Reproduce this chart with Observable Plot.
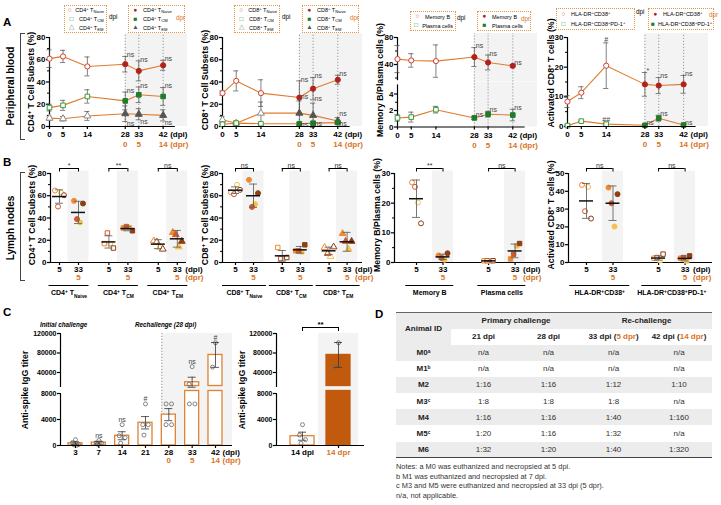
<!DOCTYPE html>
<html>
<head>
<meta charset="utf-8">
<script src="https://cdn.jsdelivr.net/npm/d3@7"></script>
<script src="https://cdn.jsdelivr.net/npm/@observablehq/plot@0.6"></script>
<style>
html,body{margin:0;padding:0;background:#fff;}
#fig{position:relative;width:721px;height:505px;overflow:hidden;background:#fff;font-family:"Liberation Sans",Arial,Helvetica,sans-serif;color:#000;}
#fig svg{position:absolute;}
.ylab{position:absolute;transform:translate(-50%,-50%) rotate(-90deg);white-space:nowrap;font-weight:bold;font-size:8.8px;line-height:1;}
.ylab sup{font-size:70%;vertical-align:0.45em;line-height:0;}
.side{position:absolute;transform:translate(-50%,-50%) rotate(-90deg);white-space:nowrap;font-weight:bold;font-size:10px;line-height:1;}
.letter{position:absolute;font-weight:bold;font-size:11.5px;line-height:1;}
.legend{position:absolute;border:1px dotted #e3964a;box-sizing:border-box;padding:0 2px;font-size:5.5px;white-space:nowrap;}
.legend .row{display:flex;align-items:center;}
.legend .mk{display:inline-block;width:9px;font-size:6.5px;text-align:center;margin-right:3px;line-height:1;}
.legend sub{font-size:75%;vertical-align:-0.3em;line-height:0;}
.legend sup{font-size:75%;vertical-align:0.5em;line-height:0;}
.tag{position:absolute;font-size:6.3px;line-height:1;}
.bracket{position:absolute;border:1px solid #444;border-right:none;width:5px;box-sizing:border-box;}
.ital{position:absolute;font-style:italic;font-weight:bold;font-size:6.3px;white-space:nowrap;line-height:1;}
#tbl{position:absolute;left:396px;top:312px;width:316px;border-collapse:collapse;table-layout:fixed;border-top:1.5px solid #666;border-bottom:1.5px solid #444;font-size:8px;}
#tbl tr{height:16.2px;}
#tbl tr.h{height:16px;}
#tbl th{font-weight:bold;color:#222;padding:0;text-align:center;}
#tbl td{font-weight:normal;color:#333;padding:0;text-align:center;}
#tbl tr.g > *, #tbl .g{background:#ececec;}
#tbl .o{color:#d9741f;}
#tbl sup{font-size:60%;vertical-align:0.5em;line-height:0;font-weight:bold;}
#notes{position:absolute;left:396px;top:462px;font-size:7.4px;line-height:9.6px;color:#333;white-space:nowrap;}
</style>
</head>
<body>
<div id="fig"></div>
<script>
// ================= DATA =================
// Panel A: peripheral blood time course
const days = [0, 5, 14, 28, 33, 42];
const rechallengeDay = 28;
const dprByDay = ["", "", "", "0", "5", "14"];
const cd4NaiveMean = [61, 63, 54, 56, 50, 55];
const cd4NaiveSD = [8, 5.5, 8.5, 7, 9, 4.5];
const cd4TcmMean = [17, 19, 27, 23, 28.5, 27];
const cd4TcmSD = [3, 4.5, 6, 8, 7, 8];
const cd4TemMean = [7.5, 7, 9.5, 11.5, 11, 10];
const cd4TemSD = [2, 2, 4, 7, 5, 5];
const cd8NaiveMean = [30, 41, 30, 26, 34, 42];
const cd8NaiveSD = [2, 9, 12, 15, 10, 4];
const cd8TcmMean = [2, 3, 2.5, 2.5, 3, 3.5];
const cd8TcmSD = [1, 1, 1, 1, 1.5, 1];
const cd8TemMean = [6, 3, 12, 12, 10, 5];
const cd8TemSD = [3, 2, 10, 11, 11, 3];
const memBMean = [48, 46, 45, 51, 43, 38];
const memBSD = [20, 10, 24, 14, 11, 2];
const plasmaMean = [1.1, 1.2, 2.1, 1.1, 1.55, 1.45];
const plasmaSD = [0.4, 0.6, 0.4, 0.2, 0.35, 0.7];
const actMean = [8.4, 11.4, 20.5, 14.2, 13.8, 14.2];
const actSD = [2, 2, 7.7, 4, 2.7, 3];
const actPdMean = [0.3, 1.8, 0.8, 0.4, 2.8, 0.5];
const actPdSD = [0.2, 0.3, 0.3, 0.2, 1, 0.3];
const nsNotes = ["", "", "", "ns", "ns", "ns"];
const actNotes = ["", "", "#", "*", "ns", "ns"];
const actPdNotes = ["", "", "##", "ns", "ns", "ns"];
const cd4Legend = ["CD4<sup>+</sup> T<sub>Naive</sub>", "CD4<sup>+</sup> T<sub>CM</sub>", "CD4<sup>+</sup> T<sub>EM</sub>"];
const cd8Legend = ["CD8<sup>+</sup> T<sub>Naive</sub>", "CD8<sup>+</sup> T<sub>CM</sub>", "CD8<sup>+</sup> T<sub>EM</sub>"];
const bLegend = ["Memory B", "Plasma cells"];
const actLegend = ["HLA-DR<sup>+</sup>CD38<sup>+</sup>", "HLA-DR<sup>+</sup>CD38<sup>+</sup>PD-1<sup>+</sup>"];

// Panel B: lymph nodes (5 dpi vs 33 dpi / 5 dpr), 4 animals each
const lnTimes = ["5", "33"];
const lnDprLabel = "5";
const cd4LnGroups = ["CD4^{+} T_{Naive}", "CD4^{+} T_{CM}", "CD4^{+} T_{EM}"];
const cd4LnDpi = [[64.7, 62.9, 60.5, 50.3], [17, 17, 13, 26.5], [19.5, 13.5, 12, 18.6]];
const cd4LnDpr = [[55.4, 36, 53, 39], [31, 31.4, 28.5, 32.3], [27, 14, 19, 25]];
const cd4LnMean5 = [59.3, 18.5, 16.5];
const cd4LnSd5 = [6, 5.5, 4];
const cd4LnMean33 = [45, 30.5, 21.3];
const cd4LnSd33 = [10, 2, 7.5];
const cd4LnSig = ["*", "**", "ns"];
const cd8LnGroups = ["CD8^{+} T_{Naive}", "CD8^{+} T_{CM}", "CD8^{+} T_{EM}"];
const cd8LnDpi = [[63, 69.8, 65.3, 61.4], [13.5, 3.6, 4.5, 3.6], [13.5, 5.4, 14, 8]];
const cd8LnDpr = [[74.3, 52.4, 62.3, 50], [10.5, 9.6, 15.9, 10.5], [26, 12, 19, 19]];
const cd8LnMean5 = [65, 6, 10.5];
const cd8LnSd5 = [3, 4.8, 3.3];
const cd8LnMean33 = [60, 11.4, 18.6];
const cd8LnSd33 = [10.5, 3, 8.5];
const cd8LnSig = ["ns", "ns", "ns"];
const bLnGroups = ["Memory B", "Plasma cells"];
const bLnDpi = [[27, 20.2, 13.2, 25.5], [0.6, 0.5, 0.6, 0.6]];
const bLnDpr = [[2.4, 0.9, 3.1, 1.5], [1.2, 5.6, 6.4, 2.8]];
const bLnMean5 = [21.5, 0.55];
const bLnSd5 = [6.3, 0.15];
const bLnMean33 = [1.9, 3.9];
const bLnSd33 = [0.9, 2.3];
const bLnSig = ["**", "ns"];
const actLnGroups = ["HLA-DR^{+}CD38^{+}", "HLA-DR^{+}CD38^{+}PD-1^{+}"];
const actLnDpi = [[43.6, 42.5, 24.7, 28.8], [2.4, 1.3, 4.7, 2.8]];
const actLnDpr = [[42.1, 20.2, 38.4, 33.3], [2.4, 0.9, 3.7, 2.8]];
const actLnMean5 = [34.6, 2.5];
const actLnSd5 = [9.8, 1.2];
const actLnMean33 = [33.3, 2.3];
const actLnSd33 = [9.7, 1.4];
const actLnSig = ["ns", "ns"];

// Panel C: anti-spike IgG titers
const titerDays = ["3", "7", "14", "21", "28", "33", "42"];
const titerDpr = ["", "", "", "", "0", "5", "14"];
const titerMean = [340, 450, 1500, 3500, 4750, 20000, 76000];
const titerSEM = [230, 200, 620, 950, 930, 10300, 25500];
const titerPoints = [[900, 450, 150, 100, 50], [770, 350, 350, 200], [3200, 1500, 1200, 350], [6400, 3200, 3200, 1600], [6400, 6400, 3200, 3200], [52000, 16000, 6400, 6400], [101000, 51000]];
const titerNotes = ["", "ns", "ns", "#", "", "ns", "#"];
const titerUpperTicks = [40000, 80000, 120000];
const titerLowerTicks = [0, 4000, 8000];
const cmpLabels = ["14 dpi", "14 dpr"];
const cmpMean = [1430, 76000];
const cmpSEM = [620, 25500];
const cmpPoints = [[3200, 1600, 900, 350], [101000, 51000]];
const cmpSig = "**";

// Panel D: neutralizing titers table
const tableGroups = ["Primary challenge", "Re-challenge"];
const tableCols = ["21 dpi", "28 dpi", "33 dpi (<span class='o'>5 dpr</span>)", "42 dpi (<span class='o'>14 dpr</span>)"];
const animalIds = ["M0<sup>a</sup>", "M1<sup>b</sup>", "M2", "M3<sup>c</sup>", "M4", "M5<sup>c</sup>", "M6"];
const titer21 = ["n/a", "n/a", "1:16", "1:8", "1:16", "1:20", "1:32"];
const titer28 = ["n/a", "n/a", "1:16", "1:8", "1:16", "1:16", "1:20"];
const titer33 = ["n/a", "n/a", "1:12", "1:8", "1:40", "1:32", "1:40"];
const titer42 = ["n/a", "n/a", "1:10", "n/a", "1:160", "n/a", "1:320"];
const tableNotes = ["Notes: a M0 was euthanized and necropsied at 5 dpi.", "b M1 was euthanized and necropsied at 7 dpi.", "c M3 and M5 were euthanized and necropsied at 33 dpi (5 dpr).", "n/a, not applicable."];

// ================= STYLE =================
const ORANGE = "#d9741f", LINE = "#e07b2c", BAR = "#de8234", BARFILL = "#c25a0d", SHADE = "#f3f3f3", ERR = "#4a4a4a";
const RED = "#d2402f", DARKRED = "#b3211b", GREEN = "#3a9a3a", DKGREEN = "#1f7d2a", GRAY = "#8a8a8a", DKGRAY = "#555";
const animalColors = ["#ef8b2f", "#f5c34b", "#8f3d12", "#d2582a"];
const baseStyle = {fontFamily: '"Liberation Sans", Arial, sans-serif', fontSize: "8px", fontWeight: "bold", color: "#000", background: "none", overflow: "visible", maxWidth: "none"};
const fig = document.getElementById("fig");

function richify(svg) {
  for (const t of svg.querySelectorAll("text, tspan")) {
    if (t.children.length) continue;
    const s = t.textContent;
    if (!/[\^_]\{/.test(s)) continue;
    t.textContent = "";
    const re = /([\^_])\{([^}]*)\}/g;
    let last = 0, m;
    while ((m = re.exec(s))) {
      if (m.index > last) t.appendChild(document.createTextNode(s.slice(last, m.index)));
      const ts = document.createElementNS("http://www.w3.org/2000/svg", "tspan");
      ts.setAttribute("baseline-shift", m[1] === "^" ? "super" : "sub");
      ts.setAttribute("font-size", "70%");
      ts.textContent = m[2];
      t.appendChild(ts);
      last = re.lastIndex;
    }
    if (last < s.length) t.appendChild(document.createTextNode(s.slice(last)));
  }
}

function place({x0, y0, x1, y1, xDomain, yDomain, marks, xAxis = true}) {
  const ml = 40, mr = 30, mt = 12, mb = 40;
  const svg = Plot.plot({
    width: ml + (x1 - x0) + mr, height: mt + (y1 - y0) + mb,
    marginLeft: ml, marginRight: mr, marginTop: mt, marginBottom: mb,
    x: xAxis ? {domain: xDomain} : {domain: xDomain, axis: null},
    y: {domain: yDomain},
    color: {type: "identity"},
    style: baseStyle,
    marks
  });
  svg.style.left = (x0 - ml) + "px";
  svg.style.top = (y0 - mt) + "px";
  richify(svg);
  fig.appendChild(svg);
}

function html(tag, cls, css, inner) {
  const e = document.createElement(tag);
  if (cls) e.className = cls;
  Object.assign(e.style, css);
  e.innerHTML = inner;
  fig.appendChild(e);
  return e;
}
const px_ = v => v + "px";

// ================= PANEL A =================
function timePanel(p) {
  const {x0, y0, x1, y1, yDomain, yTicks, yMinor, axisSpan, series, showX} = p;
  const xDomain = [0, 51];
  const ppd = (x1 - x0) / (xDomain[1] - xDomain[0]);
  const cap = 2.6 / ppd;
  const [lo, hi] = yDomain;
  const later = days.filter(d => d >= rechallengeDay);
  const marks = [
    Plot.rect([{a: rechallengeDay, b: xDomain[1]}], {x1: "a", x2: "b", y1: () => lo, y2: () => hi, fill: SHADE}),
    Plot.ruleX(later, {y1: () => lo, y2: () => hi, stroke: "#808080", strokeWidth: 0.8, strokeDasharray: "1.2,1.8"}),
    Plot.ruleX([xDomain[0]], {y1: () => axisSpan[0], y2: () => axisSpan[1], strokeWidth: 1.2}),
    Plot.axisY(yTicks, {tickSize: 3, tickPadding: 1, strokeWidth: 1.2, label: null, tickFormat: d => String(d)})
  ];
  if (yMinor) marks.push(Plot.axisY(yMinor, {tickSize: 2, strokeWidth: 1, label: null, tickFormat: () => ""}));
  for (const s of series) {
    const data = days.map((d, i) => ({x: d, y: s.mean[i], lo: s.mean[i] - s.sd[i], hi: s.mean[i] + s.sd[i], note: s.notes[i], dpr: d >= rechallengeDay}));
    marks.push(Plot.line(data, {x: "x", y: "y", stroke: LINE, strokeWidth: 1.1}));
    marks.push(Plot.ruleX(data, {x: "x", y1: "lo", y2: "hi", stroke: ERR, strokeWidth: 0.7}));
    marks.push(Plot.ruleY(data, {y: "hi", x1: d => d.x - cap, x2: d => d.x + cap, stroke: ERR, strokeWidth: 0.7}));
    marks.push(Plot.ruleY(data, {y: "lo", x1: d => d.x - cap, x2: d => d.x + cap, stroke: ERR, strokeWidth: 0.7}));
    marks.push(Plot.dot(data, {x: "x", y: "y", symbol: s.symbol, r: 2.6, fill: d => d.dpr ? s.fillColor : "white", stroke: d => d.dpr ? s.fillColor : s.color, strokeWidth: 1}));
    const side = data.filter(d => d.note && !d.note.startsWith("#"));
    const top = data.filter(d => d.note.startsWith("#"));
    const ndy = s.noteDy !== undefined ? s.noteDy : (s.noteBelow ? 2 : -1.5);
    marks.push(Plot.text(side, {x: "x", y: s.noteBelow ? "lo" : "hi", text: "note", textAnchor: "start", dx: 1.5, dy: ndy, fontSize: 7, fontWeight: "normal", fill: "#444"}));
    marks.push(Plot.text(top, {x: "x", y: "hi", text: "note", lineAnchor: "bottom", dy: -1, fontSize: 7, fontWeight: "normal", fill: "#444"}));
  }
  if (showX) {
    const last = days[days.length - 1];
    marks.push(Plot.ruleY([lo], {x1: () => xDomain[0], x2: () => 46.5, strokeWidth: 1.2}));
    marks.push(Plot.axisX(days, {tickSize: 3, tickPadding: 2, strokeWidth: 1.2, label: null, tickFormat: d => String(d)}));
    marks.push(Plot.axisX(later, {tickSize: 0, tickPadding: 15, label: null, tickFormat: d => dprByDay[days.indexOf(d)], fill: ORANGE}));
    marks.push(Plot.text(["(dpi)"], {x: () => last, text: d => d, frameAnchor: "bottom", lineAnchor: "top", dy: 5, dx: 7, textAnchor: "start"}));
    marks.push(Plot.text(["(dpr)"], {x: () => last, text: d => d, frameAnchor: "bottom", lineAnchor: "top", dy: 15, dx: 7, textAnchor: "start", fill: ORANGE}));
  }
  place({x0, y0, x1, y1, xDomain, yDomain, marks, xAxis: showX});
}

const S = (mean, sd, symbol, color, fillColor, notes, noteBelow, noteDy) => ({mean, sd, symbol, color, fillColor, notes, noteBelow, noteDy});
timePanel({x0: 49, y0: 33, x1: 187, y1: 126, yDomain: [0, 83.6], yTicks: [0, 20, 40, 60, 80], yMinor: [10, 30, 50, 70], axisSpan: [0, 80], showX: true,
  series: [S(cd4NaiveMean, cd4NaiveSD, "circle", RED, DARKRED, nsNotes), S(cd4TcmMean, cd4TcmSD, "square", GREEN, DKGREEN, nsNotes), S(cd4TemMean, cd4TemSD, "triangle", GRAY, DKGRAY, nsNotes, true)]});
timePanel({x0: 222, y0: 33, x1: 362, y1: 126, yDomain: [0, 83.6], yTicks: [0, 20, 40, 60, 80], yMinor: [10, 30, 50, 70], axisSpan: [0, 80], showX: true,
  series: [S(cd8NaiveMean, cd8NaiveSD, "circle", RED, DARKRED, nsNotes), S(cd8TemMean, cd8TemSD, "triangle", GRAY, DKGRAY, nsNotes, false, -4), S(cd8TcmMean, cd8TcmSD, "square", GREEN, DKGREEN, nsNotes, false, 2)]});
{
  // broken axis: upper 40..80 segment, lower 0..4 segment
  const upPPU = (64 - 37) / 40, loPPU = (126 - 93) / 4, brk = 81.5;
  timePanel({x0: 397, y0: 33, x1: 537, y1: brk, yDomain: [80 - (brk - 37) / upPPU, 80 + (37 - 33) / upPPU], yTicks: [40, 80], yMinor: [20, 60], axisSpan: [16, 80], showX: false,
    series: [S(memBMean, memBSD, "circle", RED, DARKRED, nsNotes)]});
  timePanel({x0: 397, y0: brk, x1: 537, y1: 126, yDomain: [0, (126 - brk) / loPPU], yTicks: [0, 2, 4], yMinor: [1, 3], axisSpan: [0, 5.1], showX: true,
    series: [S(plasmaMean, plasmaSD, "square", GREEN, DKGREEN, nsNotes)]});
}
timePanel({x0: 567, y0: 33, x1: 708, y1: 126, yDomain: [0, 31.35], yTicks: [0, 10, 20, 30], yMinor: [5, 15, 25], axisSpan: [0, 30], showX: true,
  series: [S(actMean, actSD, "circle", RED, DARKRED, actNotes), S(actPdMean, actPdSD, "square", GREEN, DKGREEN, actPdNotes)]});

// ================= PANEL B =================
function lnPanel(p) {
  const topPx = 155, yMaxPx = 173, bottomPx = 262;
  const {axisPx, pos0Px, unitPx, rightPx, gap, yMax, yTicks, yMinor, groups, symbols, dpi, dpr, mean5, sd5, mean33, sd33, sig, lineHalfPx} = p;
  const ppu = (bottomPx - yMaxPx) / yMax;
  const yTop = yMax + (yMaxPx - topPx) / ppu;
  const xl = (axisPx - pos0Px) / unitPx, xr = (rightPx - pos0Px) / unitPx;
  const px = v => v / unitPx, pu = v => v / ppu;
  const g = groups.map((label, k) => ({k, label, a: k * gap, b: k * gap + 1, mid: k * gap + 0.5, sig: sig[k]}));
  const marks = [];
  marks.push(Plot.rect(g, {x1: d => d.b - px(10.5), x2: d => d.b + px(10.5), y1: () => 0, y2: () => yMax + pu(2.5), fill: SHADE}));
  marks.push(Plot.ruleX([xl], {y1: () => 0, y2: () => yMax, strokeWidth: 1.2}));
  marks.push(Plot.axisY(yTicks, {tickSize: 3, tickPadding: 1, strokeWidth: 1.2, label: null, tickFormat: d => String(d)}));
  if (yMinor) marks.push(Plot.axisY(yMinor, {tickSize: 2, strokeWidth: 1, label: null, tickFormat: () => ""}));
  marks.push(Plot.ruleY([0], {x1: () => xl, x2: () => xr, strokeWidth: 1.2}));
  const ticks = g.flatMap(d => [d.a, d.b]);
  marks.push(Plot.axisX(ticks, {tickSize: 3, tickPadding: 1, strokeWidth: 1.2, label: null, tickFormat: v => g.some(d => d.a === v) ? lnTimes[0] : lnTimes[1]}));
  marks.push(Plot.axisX(g.map(d => d.b), {tickSize: 0, tickPadding: 12, label: null, tickFormat: () => lnDprLabel, fill: ORANGE}));
  const last = g[g.length - 1].b;
  marks.push(Plot.text(["(dpi)"], {x: () => last, text: d => d, frameAnchor: "bottom", lineAnchor: "top", dy: 4, dx: 8, textAnchor: "start"}));
  marks.push(Plot.text(["(dpr)"], {x: () => last, text: d => d, frameAnchor: "bottom", lineAnchor: "top", dy: 12, dx: 8, textAnchor: "start", fill: ORANGE}));
  marks.push(Plot.ruleY(g, {y: () => 0, x1: d => d.mid - px(lineHalfPx), x2: d => d.mid + px(lineHalfPx), dy: 23, strokeWidth: 1}));
  marks.push(Plot.text(g, {x: "mid", y: () => 0, text: "label", dy: 30, fontSize: 7}));
  const jit = [-4.5, 1.5, 4.5, -1.5];
  g.forEach(d => {
    const pts = [
      ...dpi[d.k].map((v, j) => ({x: d.a + px(jit[j]), y: v, c: animalColors[j], open: true})),
      ...dpr[d.k].map((v, j) => ({x: d.b + px(jit[j]), y: v, c: animalColors[j], open: false}))];
    marks.push(Plot.dot(pts, {x: "x", y: "y", symbol: symbols[d.k], r: 2.5, fill: q => q.open ? "white" : q.c, stroke: "c", strokeWidth: 1}));
  });
  const st = g.flatMap(d => [{x: d.a, m: mean5[d.k], s: sd5[d.k]}, {x: d.b, m: mean33[d.k], s: sd33[d.k]}]);
  marks.push(Plot.ruleX(st, {x: "x", y1: d => d.m - d.s, y2: d => d.m + d.s, stroke: "#666", strokeWidth: 0.9}));
  marks.push(Plot.ruleY(st, {y: d => d.m - d.s, x1: d => d.x - px(4), x2: d => d.x + px(4), stroke: "#666", strokeWidth: 0.9}));
  marks.push(Plot.ruleY(st, {y: d => d.m + d.s, x1: d => d.x - px(4), x2: d => d.x + px(4), stroke: "#666", strokeWidth: 0.9}));
  marks.push(Plot.ruleY(st, {y: "m", x1: d => d.x - px(7), x2: d => d.x + px(7), stroke: "#111", strokeWidth: 1.5}));
  const yb = yMax + pu(5);
  marks.push(Plot.ruleY(g, {y: () => yb, x1: "a", x2: "b", strokeWidth: 1}));
  marks.push(Plot.ruleX(g, {x: "a", y1: () => yb - pu(3.5), y2: () => yb, strokeWidth: 1}));
  marks.push(Plot.ruleX(g, {x: "b", y1: () => yb - pu(3.5), y2: () => yb, strokeWidth: 1}));
  marks.push(Plot.text(g, {x: "mid", y: () => yb, text: "sig", lineAnchor: "bottom", dy: -1, fontSize: 7, fontWeight: "normal", fill: "#333"}));
  place({x0: axisPx, y0: topPx, x1: rightPx, y1: bottomPx, xDomain: [xl, xr], yDomain: [0, yTop], marks});
}

lnPanel({axisPx: 50, pos0Px: 59, unitPx: 19, rightPx: 186, gap: 2.6, yMax: 80, yTicks: [0, 20, 40, 60, 80], yMinor: [10, 30, 50, 70],
  groups: cd4LnGroups, symbols: ["circle", "square", "triangle"], dpi: cd4LnDpi, dpr: cd4LnDpr, mean5: cd4LnMean5, sd5: cd4LnSd5, mean33: cd4LnMean33, sd33: cd4LnSd33, sig: cd4LnSig, lineHalfPx: 20});
lnPanel({axisPx: 222, pos0Px: 235, unitPx: 18, rightPx: 362, gap: 2.6, yMax: 80, yTicks: [0, 20, 40, 60, 80], yMinor: [10, 30, 50, 70],
  groups: cd8LnGroups, symbols: ["circle", "square", "triangle"], dpi: cd8LnDpi, dpr: cd8LnDpr, mean5: cd8LnMean5, sd5: cd8LnSd5, mean33: cd8LnMean33, sd33: cd8LnSd33, sig: cd8LnSig, lineHalfPx: 22});
lnPanel({axisPx: 394, pos0Px: 416, unitPx: 26.5, rightPx: 540, gap: 2.72, yMax: 30, yTicks: [0, 10, 20, 30], yMinor: [5, 15, 25],
  groups: bLnGroups, symbols: ["circle", "square"], dpi: bLnDpi, dpr: bLnDpr, mean5: bLnMean5, sd5: bLnSd5, mean33: bLnMean33, sd33: bLnSd33, sig: bLnSig, lineHalfPx: 24});
lnPanel({axisPx: 568, pos0Px: 586, unitPx: 26.5, rightPx: 712, gap: 2.72, yMax: 50, yTicks: [0, 10, 20, 30, 40, 50], yMinor: null,
  groups: actLnGroups, symbols: ["circle", "square"], dpi: actLnDpi, dpr: actLnDpr, mean5: actLnMean5, sd5: actLnSd5, mean33: actLnMean33, sd33: actLnSd33, sig: actLnSig, lineHalfPx: 30});

// ================= PANEL C =================
function titerPanel(p) {
  const {axisPx, c0Px, unitPx, rightPx, labels, dprLabels, mean, err, points, notes, fills, strokes, halfBarPx, shade, dotted, labelColors, bracket, tail} = p;
  const uT = titerUpperTicks, lT = titerLowerTicks;
  const xl = (axisPx - c0Px) / unitPx, xr = (rightPx - c0Px) / unitPx;
  const px = v => v / unitPx;
  const upTop = 322, brk = 388, bot = 445;
  const upPPU = (372 - 333) / (uT[2] - uT[0]);
  const upDomHi = uT[2] + (333 - upTop) / upPPU;
  const upDomLo = uT[0] - (brk - 372) / upPPU;
  const loPPU = (bot - 393) / lT[2];
  const loDomHi = (bot - brk) / loPPU;
  const upCut = upDomLo + 2.5 / upPPU;
  const loCut = loDomHi - 2.5 / loPPU;
  const cats = labels.map((l, i) => ({i, m: mean[i], lo: mean[i] - err[i], hi: mean[i] + err[i], fill: fills[i], stroke: strokes[i], note: notes ? notes[i] : "", top: Math.max(mean[i] + err[i], ...points[i])}));
  const jit = [0, -3, 3, -1.5, 1.5];
  const pts = points.flatMap((arr, i) => arr.map((v, k) => {
    const dup = arr.filter(w => w === v).length;
    const kk = arr.slice(0, k).filter(w => w === v).length;
    const off = dup > 1 ? (kk - (dup - 1) / 2) * 5.5 : jit[k % 5];
    return {x: i + px(off), y: v};
  }));
  function seg(lower) {
    const dLo = lower ? 0 : upDomLo, dHi = lower ? loDomHi : upDomHi;
    const shadeTop = lower ? loDomHi : uT[2];
    const marks = [];
    marks.push(Plot.rect([shade], {x1: "a", x2: "b", y1: () => dLo, y2: () => shadeTop, fill: SHADE}));
    if (dotted !== undefined) marks.push(Plot.ruleX([dotted], {y1: () => dLo, y2: () => shadeTop, stroke: "#777", strokeWidth: 0.8, strokeDasharray: "1.2,1.8"}));
    marks.push(Plot.ruleX([xl], {y1: () => lower ? 0 : upDomLo + 1 / upPPU, y2: () => lower ? lT[2] : uT[2], strokeWidth: 1.2}));
    marks.push(Plot.axisY(lower ? lT : uT, {tickSize: 3, tickPadding: 1, strokeWidth: 1.2, label: null, fontSize: 7, tickFormat: d => String(d)}));
    const barData = cats.filter(c => lower || c.m > upCut).map(c => ({...c, y1: lower ? 0 : upCut, y2: lower ? Math.min(c.m, loCut) : c.m}));
    marks.push(Plot.rect(barData, {x1: d => d.i - px(halfBarPx), x2: d => d.i + px(halfBarPx), y1: "y1", y2: "y2", fill: "fill", stroke: "stroke", strokeWidth: 1.3}));
    const eb = cats.map(c => ({i: c.i, a: Math.max(c.lo, dLo), b: Math.min(c.hi, dHi), lo: c.lo, hi: c.hi, capLo: c.lo >= dLo && c.lo <= dHi, capHi: c.hi >= dLo && c.hi <= dHi})).filter(d => d.a < d.b);
    marks.push(Plot.dot(pts.filter(d => d.y >= dLo && d.y <= dHi), {x: "x", y: "y", r: 2, stroke: "#666", fill: "none", strokeWidth: 0.8}));
    marks.push(Plot.ruleX(eb, {x: "i", y1: "a", y2: "b", stroke: "#333", strokeWidth: 0.8}));
    marks.push(Plot.ruleY(eb.filter(d => d.capHi), {y: "hi", x1: d => d.i - px(4), x2: d => d.i + px(4), stroke: "#333", strokeWidth: 0.8}));
    marks.push(Plot.ruleY(eb.filter(d => d.capLo), {y: "lo", x1: d => d.i - px(4), x2: d => d.i + px(4), stroke: "#333", strokeWidth: 0.8}));
    const nd = cats.filter(c => c.note && ((c.top > loDomHi) !== lower));
    marks.push(Plot.text(nd, {x: "i", y: "top", text: "note", lineAnchor: "bottom", dy: -2.5, fontSize: 7, fontWeight: "normal", fill: "#444"}));
    if (bracket && !lower) {
      const yb = uT[2] + 6 / upPPU;
      marks.push(Plot.ruleY([bracket], {y: () => yb, x1: "a", x2: "b", strokeWidth: 1}));
      marks.push(Plot.ruleX([bracket.a, bracket.b], {y1: () => yb - 4 / upPPU, y2: () => yb, strokeWidth: 1}));
      marks.push(Plot.text([bracket], {x: d => (d.a + d.b) / 2, y: () => yb, text: "label", lineAnchor: "bottom", dy: -1, fontSize: 8}));
    }
    if (lower) {
      const idx = labels.map((_, i) => i);
      marks.push(Plot.ruleY([0], {x1: () => xl, x2: () => xr, strokeWidth: 1.2}));
      const blk = idx.filter(i => labelColors[i] === "k"), org = idx.filter(i => labelColors[i] === "o");
      if (blk.length) marks.push(Plot.axisX(blk, {tickSize: 3, tickPadding: 1, strokeWidth: 1.2, label: null, tickFormat: i => labels[i]}));
      if (org.length) marks.push(Plot.axisX(org, {tickSize: 3, tickPadding: 1, strokeWidth: 1.2, label: null, tickFormat: i => labels[i], fill: ORANGE}));
      if (dprLabels) marks.push(Plot.axisX(idx.filter(i => dprLabels[i]), {tickSize: 0, tickPadding: 11.5, label: null, tickFormat: i => dprLabels[i], fill: ORANGE}));
      if (tail) {
        const last = idx[idx.length - 1];
        marks.push(Plot.text(["(dpi)"], {x: () => last, text: d => d, frameAnchor: "bottom", lineAnchor: "top", dy: 4, dx: 7, textAnchor: "start"}));
        marks.push(Plot.text(["(dpr)"], {x: () => last, text: d => d, frameAnchor: "bottom", lineAnchor: "top", dy: 11.5, dx: 7, textAnchor: "start", fill: ORANGE}));
      }
    }
    place({x0: axisPx, y0: lower ? brk : upTop, x1: rightPx, y1: lower ? bot : brk, xDomain: [xl, xr], yDomain: [dLo, dHi], marks, xAxis: lower});
  }
  seg(false);
  seg(true);
}

{
  const unit = 23.33, half = 7;
  const firstDpr = titerDpr.findIndex(d => d !== "");
  const start = firstDpr - half / unit;
  titerPanel({axisPx: 60, c0Px: 75, unitPx: unit, rightPx: 232, labels: titerDays, dprLabels: titerDpr, mean: titerMean, err: titerSEM, points: titerPoints, notes: titerNotes,
    fills: titerDays.map(() => "white"), strokes: titerDays.map(() => BAR), halfBarPx: half, shade: {a: start, b: (232 - 75) / unit}, dotted: start,
    labelColors: titerDays.map(() => "k"), tail: true});
  const u2 = 36;
  titerPanel({axisPx: 276, c0Px: 302, unitPx: u2, rightPx: 364, labels: cmpLabels, dprLabels: null, mean: cmpMean, err: cmpSEM, points: cmpPoints, notes: null,
    fills: ["white", BARFILL], strokes: [BAR, BARFILL], halfBarPx: 12, shade: {a: 1 - 20 / u2, b: 1 + 20 / u2},
    labelColors: ["k", "o"], bracket: {a: 0, b: 1, label: cmpSig}, tail: false});
}

// ================= TEXT / LEGENDS =================
html("div", "letter", {left: "3px", top: "17px"}, "A");
html("div", "letter", {left: "3px", top: "157px"}, "B");
html("div", "letter", {left: "3px", top: "307px"}, "C");
html("div", "letter", {left: "375px", top: "309px"}, "D");
html("div", "side", {left: "11px", top: "86px"}, "Peripheral blood");
html("div", "bracket", {left: "20px", top: "33px", height: "107px"}, "");
html("div", "side", {left: "11px", top: "228px"}, "Lymph nodes");
html("div", "bracket", {left: "20px", top: "172px", height: "109px"}, "");

const ylabs = [
  [31, 82, "CD4<sup>+</sup> T Cell Subsets (%)"], [205, 80, "CD8<sup>+</sup> T Cell Subsets (%)"], [380, 80, "Memory B/Plasma cells (%)"], [551, 73, "Activated CD8<sup>+</sup> T cells (%)"],
  [32, 215, "CD4<sup>+</sup> T Cell Subsets (%)"], [205, 215, "CD8<sup>+</sup> T Cell Subsets (%)"], [377, 215, "Memory B/Plasma cells (%)"], [551, 215, "Activated CD8<sup>+</sup> T cells (%)"],
  [25, 390, "Anti-spike IgG titer"], [242, 390, "Anti-spike IgG titer"]];
ylabs.forEach(([x, y, t]) => html("div", "ylab", {left: px_(x), top: px_(y)}, t));

function legend(x, y, w, h, entries) {
  const rh = (h - 2) / entries.length;
  const rows = entries.map(([mk, color, label]) => `<div class="row" style="height:${rh}px"><span class="mk" style="color:${color}">${mk}</span><span>${label}</span></div>`).join("");
  html("div", "legend", {left: px_(x), top: px_(y), width: px_(w), height: px_(h)}, rows);
}
const openMk = [["○", RED], ["□", GREEN], ["△", GRAY]];
const fillMk = [["●", DARKRED], ["■", DKGREEN], ["▲", DKGRAY]];
function legendPair(x1, x2, y, w1, w2, h, labels, dpiX, dpiY, dprX, dprY) {
  legend(x1, y, w1, h, labels.map((l, i) => [openMk[i][0], openMk[i][1], l]));
  legend(x2, y, w2, h, labels.map((l, i) => [fillMk[i][0], fillMk[i][1], l]));
  html("div", "tag", {left: px_(dpiX), top: px_(dpiY)}, "dpi");
  html("div", "tag", {left: px_(dprX), top: px_(dprY), color: ORANGE}, "dpr");
}
legendPair(64, 128, 5, 43, 57, 28, cd4Legend, 109, 14, 176, 15);
legendPair(234, 302, 5, 46, 57, 28, cd8Legend, 282, 14, 350, 15);
legendPair(410, 477, 11, 46, 54, 20, bLegend, 457, 15, 521, 16);
legendPair(556, 648, 8, 79, 66, 22, actLegend, 636, 9, 709, 12);

html("div", "ital", {left: "40px", top: "322px"}, "Initial challenge");
html("div", "ital", {left: "135px", top: "322px"}, "Rechallenge (28 dpi)");

// ================= TABLE =================
{
  let t = `<colgroup><col style="width:55px"><col style="width:65px"><col style="width:65px"><col style="width:65px"><col style="width:66px"></colgroup>`;
  t += `<tr class="h g"><th rowspan="2" class="g">Animal ID</th><th colspan="2">${tableGroups[0]}</th><th colspan="2">${tableGroups[1]}</th></tr>`;
  t += `<tr class="h">${tableCols.map(c => `<th>${c}</th>`).join("")}</tr>`;
  animalIds.forEach((id, i) => {
    t += `<tr class="${i % 2 === 0 ? "g" : ""}"><th>${id}</th><td>${titer21[i]}</td><td>${titer28[i]}</td><td>${titer33[i]}</td><td>${titer42[i]}</td></tr>`;
  });
  const tbl = document.createElement("table");
  tbl.id = "tbl";
  tbl.innerHTML = t;
  fig.appendChild(tbl);
  const notes = html("div", "", {}, tableNotes.join("<br>"));
  notes.id = "notes";
}
</script>
</body>
</html>
